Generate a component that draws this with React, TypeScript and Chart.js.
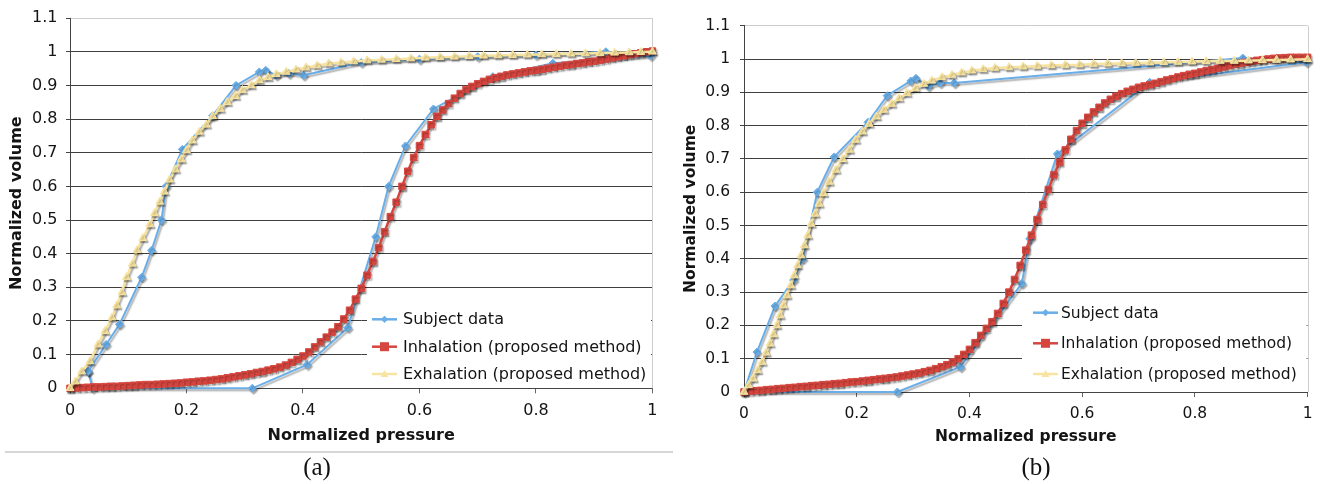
import React, { useEffect, useRef } from 'react';
import { Chart, registerables } from 'chart.js';

Chart.register(...registerables);

// ---------- DATA ----------
const seriesNames = ['Subject data', 'Inhalation (proposed method)', 'Exhalation (proposed method)'];
const xAxisTitle = 'Normalized pressure';
const yAxisTitle = 'Normalized volume';
const xTickLabels = ['0', '0.2', '0.4', '0.6', '0.8', '1'];
const yTickLabels = ['0', '0.1', '0.2', '0.3', '0.4', '0.5', '0.6', '0.7', '0.8', '0.9', '1', '1.1'];
const captions = ['(a)', '(b)'];

// pressure values of the model (inhalation) curves
const pressureGrid = [
  0.00, 0.01, 0.02, 0.03, 0.04, 0.05, 0.06, 0.07, 0.08, 0.09,
  0.10, 0.11, 0.12, 0.13, 0.14, 0.15, 0.16, 0.17, 0.18, 0.19,
  0.20, 0.21, 0.22, 0.23, 0.24, 0.25, 0.26, 0.27, 0.28, 0.29,
  0.30, 0.31, 0.32, 0.33, 0.34, 0.35, 0.36, 0.37, 0.38, 0.39,
  0.40, 0.41, 0.42, 0.43, 0.44, 0.45, 0.46, 0.47, 0.48, 0.49,
  0.50, 0.51, 0.52, 0.53, 0.54, 0.55, 0.56, 0.57, 0.58, 0.59,
  0.60, 0.61, 0.62, 0.63, 0.64, 0.65, 0.66, 0.67, 0.68, 0.69,
  0.70, 0.71, 0.72, 0.73, 0.74, 0.75, 0.76, 0.77, 0.78, 0.79,
  0.80, 0.81, 0.82, 0.83, 0.84, 0.85, 0.86, 0.87, 0.88, 0.89,
  0.90, 0.91, 0.92, 0.93, 0.94, 0.95, 0.96, 0.97, 0.98, 0.99,
  1.00,
];

// ----- panel (a) -----
const subjectAx = [0.031, 0.039, 0.313, 0.407, 0.477, 0.525, 0.547, 0.576, 0.624, 0.726, 0.829, 0.997, 0.92, 0.8, 0.7, 0.6, 0.5, 0.401, 0.376, 0.354, 0.336, 0.325, 0.285, 0.245, 0.193, 0.165, 0.157, 0.14, 0.123, 0.085, 0.062, 0.031];
const subjectAy = [0.05, 0.0, 0.0, 0.07, 0.18, 0.45, 0.6, 0.72, 0.83, 0.926, 0.966, 0.988, 1.0, 0.99, 0.985, 0.978, 0.968, 0.93, 0.935, 0.93, 0.945, 0.94, 0.9, 0.81, 0.71, 0.6, 0.5, 0.41, 0.33, 0.19, 0.13, 0.05];

const inhalationA = [
  0.000, 0.001, 0.002, 0.003, 0.004, 0.004, 0.005, 0.006, 0.006, 0.007,
  0.008, 0.009, 0.010, 0.011, 0.011, 0.012, 0.013, 0.014, 0.015, 0.016,
  0.018, 0.019, 0.021, 0.022, 0.024, 0.026, 0.028, 0.031, 0.034, 0.037,
  0.040, 0.043, 0.047, 0.050, 0.054, 0.058, 0.063, 0.069, 0.077, 0.086,
  0.096, 0.108, 0.123, 0.138, 0.152, 0.167, 0.183, 0.206, 0.232, 0.265,
  0.297, 0.336, 0.377, 0.418, 0.465, 0.510, 0.553, 0.600, 0.645, 0.686,
  0.721, 0.754, 0.783, 0.808, 0.827, 0.846, 0.862, 0.876, 0.888, 0.897,
  0.905, 0.912, 0.918, 0.923, 0.927, 0.931, 0.934, 0.937, 0.940, 0.943,
  0.945, 0.948, 0.951, 0.954, 0.957, 0.960, 0.962, 0.965, 0.967, 0.970,
  0.972, 0.975, 0.978, 0.982, 0.985, 0.988, 0.991, 0.994, 0.997, 1.000,
  1.002,
];

const exhalationAx = [0, 0.009, 0.02, 0.034, 0.048, 0.06, 0.072, 0.08, 0.089, 0.097, 0.107, 0.115, 0.125, 0.137, 0.145, 0.154, 0.162, 0.171, 0.181, 0.191, 0.2, 0.21, 0.222, 0.234, 0.245, 0.258, 0.27, 0.284, 0.296, 0.311, 0.325, 0.34, 0.354, 0.371, 0.388, 0.405, 0.424, 0.444, 0.465, 0.487, 0.51, 0.535, 0.56, 0.585, 0.61, 0.635, 0.66, 0.685, 0.71, 0.735, 0.76, 0.785, 0.81, 0.835, 0.86, 0.885, 0.91, 0.935, 0.96, 0.98, 1.0];
const exhalationAy = [0, 0.02, 0.05, 0.08, 0.13, 0.17, 0.21, 0.246, 0.285, 0.33, 0.37, 0.41, 0.446, 0.487, 0.52, 0.554, 0.584, 0.62, 0.65, 0.68, 0.707, 0.736, 0.762, 0.783, 0.808, 0.83, 0.85, 0.868, 0.886, 0.9, 0.915, 0.924, 0.933, 0.94, 0.947, 0.953, 0.959, 0.965, 0.968, 0.971, 0.974, 0.976, 0.978, 0.98, 0.982, 0.984, 0.985, 0.987, 0.988, 0.989, 0.99, 0.991, 0.992, 0.993, 0.994, 0.995, 0.996, 0.997, 0.998, 0.999, 1.0];

// ----- panel (b) -----
const subjectBx = [0, 0.023, 0.055, 0.088, 0.104, 0.13, 0.16, 0.22, 0.254, 0.296, 0.305, 0.327, 0.348, 0.373, 0.885, 0.998, 0.72, 0.556, 0.507, 0.493, 0.384, 0.272, 0];
const subjectBy = [0, 0.12, 0.258, 0.336, 0.4, 0.6, 0.706, 0.81, 0.89, 0.934, 0.942, 0.918, 0.928, 0.928, 1.003, 0.99, 0.93, 0.715, 0.46, 0.326, 0.075, 0, 0];

const inhalationB = [
  0.000, 0.002, 0.004, 0.005, 0.007, 0.008, 0.010, 0.011, 0.013, 0.014,
  0.016, 0.017, 0.019, 0.020, 0.022, 0.023, 0.025, 0.026, 0.028, 0.030,
  0.031, 0.033, 0.035, 0.037, 0.039, 0.041, 0.043, 0.045, 0.048, 0.051,
  0.054, 0.057, 0.061, 0.065, 0.070, 0.076, 0.082, 0.090, 0.100, 0.113,
  0.128, 0.148, 0.170, 0.191, 0.211, 0.236, 0.266, 0.300, 0.338, 0.380,
  0.426, 0.471, 0.518, 0.563, 0.608, 0.652, 0.690, 0.727, 0.759, 0.785,
  0.807, 0.825, 0.841, 0.855, 0.868, 0.879, 0.888, 0.896, 0.903, 0.909,
  0.915, 0.919, 0.923, 0.927, 0.932, 0.937, 0.941, 0.946, 0.950, 0.954,
  0.957, 0.961, 0.965, 0.968, 0.972, 0.976, 0.980, 0.984, 0.987, 0.990,
  0.993, 0.996, 0.998, 1.000, 1.002, 1.003, 1.004, 1.005, 1.005, 1.005,
  1.005,
];

const exhalationBx = [0, 0.008, 0.016, 0.024, 0.032, 0.039, 0.046, 0.052, 0.058, 0.064, 0.07, 0.076, 0.083, 0.089, 0.095, 0.101, 0.107, 0.113, 0.119, 0.126, 0.133, 0.141, 0.151, 0.163, 0.175, 0.187, 0.198, 0.21, 0.222, 0.235, 0.248, 0.262, 0.275, 0.289, 0.304, 0.319, 0.333, 0.351, 0.369, 0.386, 0.404, 0.424, 0.445, 0.47, 0.495, 0.52, 0.545, 0.57, 0.595, 0.62, 0.645, 0.67, 0.695, 0.72, 0.745, 0.77, 0.795, 0.82, 0.845, 0.87, 0.895, 0.92, 0.945, 0.97, 1.0];
const exhalationBy = [0, 0.02, 0.04, 0.065, 0.09, 0.118, 0.145, 0.173, 0.2, 0.23, 0.26, 0.29, 0.32, 0.35, 0.38, 0.41, 0.44, 0.47, 0.505, 0.535, 0.565, 0.597, 0.631, 0.667, 0.699, 0.727, 0.757, 0.782, 0.805, 0.827, 0.847, 0.865, 0.882, 0.897, 0.912, 0.925, 0.935, 0.945, 0.952, 0.959, 0.965, 0.969, 0.973, 0.975, 0.977, 0.979, 0.981, 0.982, 0.983, 0.985, 0.986, 0.987, 0.988, 0.989, 0.99, 0.991, 0.992, 0.993, 0.994, 0.994, 0.995, 0.996, 0.997, 0.998, 0.999];

// ---------- STYLE ----------
const FONT = '"DejaVu Sans", Verdana, sans-serif';
const BLUE = '#69aee8';
const RED = '#d6463f';
const YELLOW = '#f8e4a0';
const GRID = '#3f3f3f';
const BORDER_LIGHT = '#cdcdcd';
const TEXT = '#141414';

const zip = (xs: number[], ys: number[]) => xs.map((x, i) => ({ x, y: ys[i] }));

const shadowPlugin = {
  id: 'excelShadow',
  beforeDatasetDraw(chart: any) {
    const c = chart.ctx;
    c.save();
    c.shadowColor = 'rgba(0,0,0,0.32)';
    c.shadowOffsetX = 1.5;
    c.shadowOffsetY = 2;
    c.shadowBlur = 1.5;
  },
  afterDatasetDraw(chart: any) {
    chart.ctx.restore();
  },
};

const frameAndLegendPlugin = {
  id: 'frameLegend',
  beforeDatasetsDraw(chart: any) {
    const { ctx, chartArea } = chart;
    ctx.save();
    ctx.strokeStyle = BORDER_LIGHT;
    ctx.lineWidth = 1;
    ctx.beginPath();
    ctx.moveTo(Math.round(chartArea.right) + 0.5, chartArea.top);
    ctx.lineTo(Math.round(chartArea.right) + 0.5, chartArea.bottom);
    ctx.stroke();
    ctx.restore();
  },
  afterDatasetsDraw(chart: any, _args: any, opts: any) {
    const { ctx, chartArea } = chart;
    const lg = opts.legend;
    if (!lg) return;
    ctx.save();
    ctx.fillStyle = '#ffffff';
    const bottom = Math.min(lg.y1, chartArea.bottom - 1);
    const right = Math.min(lg.x1, chartArea.right - 1);
    ctx.fillRect(lg.x0, lg.y0, right - lg.x0, bottom - lg.y0);
    const markers = ['diamond', 'square', 'triangle'];
    chart.data.datasets.forEach((ds: any, i: number) => {
      const cy = lg.rows[i];
      const cx = (lg.sx0 + lg.sx1) / 2;
      ctx.strokeStyle = ds.borderColor;
      ctx.fillStyle = ds.backgroundColor;
      ctx.lineWidth = 2.5;
      ctx.beginPath();
      ctx.moveTo(lg.sx0, cy);
      ctx.lineTo(lg.sx1, cy);
      ctx.stroke();
      ctx.beginPath();
      if (markers[i] === 'diamond') {
        const r = 3.6;
        ctx.moveTo(cx, cy - r);
        ctx.lineTo(cx + r, cy);
        ctx.lineTo(cx, cy + r);
        ctx.lineTo(cx - r, cy);
        ctx.closePath();
      } else if (markers[i] === 'square') {
        ctx.rect(cx - 4.5, cy - 4.5, 9, 9);
      } else {
        const r = 4;
        ctx.moveTo(cx, cy - r);
        ctx.lineTo(cx + r, cy + r * 0.75);
        ctx.lineTo(cx - r, cy + r * 0.75);
        ctx.closePath();
      }
      ctx.fill();
      ctx.fillStyle = TEXT;
      ctx.font = `${lg.fontSize}px ${FONT}`;
      ctx.textBaseline = 'middle';
      ctx.textAlign = 'left';
      ctx.fillText(ds.label, lg.tx, cy + 1);
    });
    ctx.restore();
  },
};

type PanelCfg = {
  canvasLeft: number;
  width: number;
  height: number;
  subjX: number[];
  subjY: number[];
  inhY: number[];
  exhX: number[];
  exhY: number[];
  padTop: number;
  padRight: number;
  yAxisWidth: number;
  xAxisHeight: number;
  fontSize: number;
  yTitlePad: number;
  xTitlePad: number;
  yTickPad: number;
  legend: any;
};

function buildConfig(p: PanelCfg): any {
  const tickFont = { family: FONT, size: p.fontSize };
  const titleFont = { family: FONT, size: p.fontSize, weight: 'bold' as const };
  return {
    type: 'scatter',
    data: {
      datasets: [
        {
          label: seriesNames[0],
          data: zip(p.subjX, p.subjY),
          showLine: true,
          borderColor: BLUE,
          backgroundColor: BLUE,
          borderWidth: 2,
          pointStyle: 'rectRot',
          pointRadius: 4,
          pointBorderWidth: 1,
          tension: 0,
          order: 3,
          clip: false,
        },
        {
          label: seriesNames[1],
          data: zip(pressureGrid, p.inhY),
          showLine: true,
          borderColor: RED,
          backgroundColor: RED,
          borderWidth: 2.5,
          pointStyle: 'rect',
          pointRadius: 4.6,
          pointBorderWidth: 1,
          tension: 0,
          order: 2,
          clip: false,
        },
        {
          label: seriesNames[2],
          data: zip(p.exhX, p.exhY),
          showLine: true,
          borderColor: YELLOW,
          backgroundColor: YELLOW,
          borderWidth: 2.5,
          pointStyle: 'triangle',
          pointRadius: 4.6,
          pointBorderWidth: 1,
          tension: 0,
          order: 1,
          clip: false,
        },
      ],
    },
    options: {
      animation: false,
      responsive: false,
      devicePixelRatio: 1,
      events: [],
      layout: { padding: { left: 0, right: p.padRight, top: p.padTop, bottom: 0 } },
      plugins: {
        legend: { display: false },
        tooltip: { enabled: false },
        frameLegend: { legend: p.legend },
      },
      scales: {
        x: {
          type: 'linear',
          min: 0,
          max: 1,
          afterFit: (s: any) => {
            s.height = p.xAxisHeight;
          },
          ticks: {
            stepSize: 0.2,
            autoSkip: false,
            maxRotation: 0,
            padding: 7.5,
            color: TEXT,
            font: tickFont,
            callback: (_v: any, i: number) => xTickLabels[i],
          },
          grid: { drawOnChartArea: false, drawTicks: true, tickLength: 5, color: '#666' },
          border: { color: '#444', width: 1 },
          title: {
            display: true,
            text: xAxisTitle,
            color: TEXT,
            font: titleFont,
            padding: { top: 0, bottom: p.xTitlePad },
          },
        },
        y: {
          type: 'linear',
          min: 0,
          max: 1.1,
          afterFit: (s: any) => {
            s.width = p.yAxisWidth;
          },
          ticks: {
            stepSize: 0.1,
            autoSkip: false,
            padding: p.yTickPad,
            color: TEXT,
            font: tickFont,
            callback: (_v: any, i: number) => yTickLabels[i],
          },
          grid: {
            drawTicks: true,
            tickLength: 4,
            tickColor: '#444',
            lineWidth: 1,
            color: (c: any) => (c.tick && c.tick.value > 1.05 ? BORDER_LIGHT : GRID),
          },
          border: { color: '#444', width: 1 },
          title: {
            display: true,
            text: yAxisTitle,
            color: TEXT,
            font: titleFont,
            padding: { top: p.yTitlePad, bottom: 0 },
          },
        },
      },
    },
    plugins: [shadowPlugin, frameAndLegendPlugin],
  };
}

const panelA: PanelCfg = {
  canvasLeft: 0,
  width: 665,
  height: 455,
  subjX: subjectAx,
  subjY: subjectAy,
  inhY: inhalationA,
  exhX: exhalationAx,
  exhY: exhalationAy,
  padTop: 14,
  padRight: 11.5,
  yAxisWidth: 70,
  xAxisHeight: 66.7,
  fontSize: 16,
  yTitlePad: 6.9,
  xTitlePad: 9.9,
  yTickPad: 8.5,
  legend: { x0: 367, x1: 651, y0: 300, y1: 387, rows: [319.3, 346.7, 374], sx0: 372, sx1: 397, tx: 403, fontSize: 16 },
};

const panelB: PanelCfg = {
  canvasLeft: 672,
  width: 648,
  height: 455,
  subjX: subjectBx,
  subjY: subjectBy,
  inhY: inhalationB,
  exhX: exhalationBx,
  exhY: exhalationBy,
  padTop: 25.7,
  padRight: 8,
  yAxisWidth: 72,
  xAxisHeight: 63,
  fontSize: 15.5,
  yTitlePad: 9.7,
  xTitlePad: 9.2,
  yTickPad: 10,
  legend: { x0: 350, x1: 636, y0: 297, y1: 391, rows: [312.7, 343.3, 374], sx0: 361, sx1: 386, tx: 389, fontSize: 15.5 },
};

function Panel({ cfg }: { cfg: PanelCfg }) {
  const ref = useRef<HTMLCanvasElement>(null);
  useEffect(() => {
    if (!ref.current) return;
    const chart = new Chart(ref.current, buildConfig(cfg));
    return () => chart.destroy();
  }, [cfg]);
  return (
    <canvas
      ref={ref}
      width={cfg.width}
      height={cfg.height}
      style={{ position: 'absolute', left: cfg.canvasLeft, top: 0, width: cfg.width, height: cfg.height }}
    />
  );
}

export default function App() {
  useEffect(() => {
    document.body.style.margin = '0';
    document.body.style.background = '#ffffff';
  }, []);
  const captionStyle: React.CSSProperties = {
    position: 'absolute',
    top: 452,
    width: 100,
    height: 30,
    lineHeight: '30px',
    textAlign: 'center',
    fontFamily: '"Liberation Serif", "Times New Roman", serif',
    fontSize: 25,
    color: '#111',
  };
  return (
    <div style={{ position: 'fixed', left: 0, top: 0, width: 1320, height: 484, background: '#fff', overflow: 'hidden' }}>
      <Panel cfg={panelA} />
      <Panel cfg={panelB} />
      <div style={{ position: 'absolute', left: 5, top: 451, width: 668, height: 2, background: '#d6d6d6' }} />
      <div style={{ ...captionStyle, left: 267 }}>{captions[0]}</div>
      <div style={{ ...captionStyle, left: 986 }}>{captions[1]}</div>
    </div>
  );
}
